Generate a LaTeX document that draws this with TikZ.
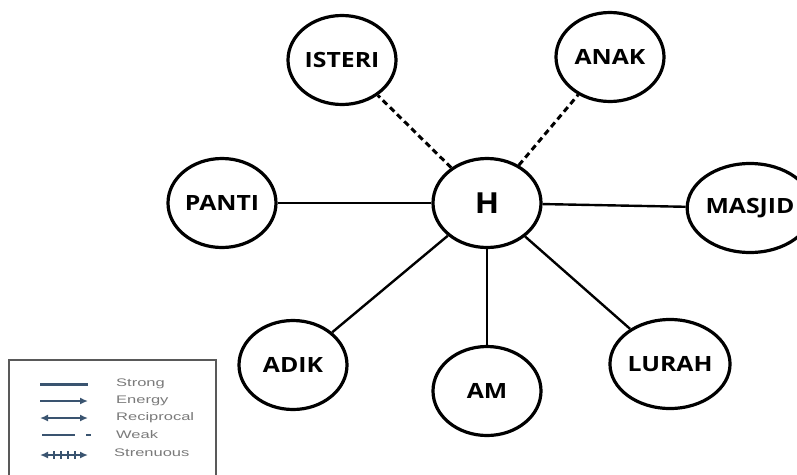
\documentclass[tikz,border=0pt]{standalone}
\usepackage{fontspec}
\setmainfont{Open Sans}
\newfontfamily\legfont{Liberation Sans}
\usetikzlibrary{arrows.meta,shapes.geometric}
\definecolor{legc}{HTML}{3A5470}
\definecolor{legt}{HTML}{7A7A7A}
\newcommand{\wide}[1]{\scalebox{1.18}[1]{#1}}
\newcommand{\lwide}[1]{\scalebox{1.5}[1]{#1}}
\begin{document}
\begin{tikzpicture}[x=1pt,y=-1pt,
  person/.style={ellipse, draw, line width=3.2pt, minimum width=108pt, minimum height=89pt, inner sep=0pt,
    font=\bfseries\fontsize{21}{21}\selectfont},
  tie/.style={line width=2.4pt},
  weaktie/.style={line width=3pt, dash pattern=on 6pt off 4pt},
  legline/.style={draw=legc, line width=2pt},
  legtip/.style={Latex[length=8pt,width=7pt]},
  legtext/.style={text=legt, anchor=west, inner sep=0pt, font=\legfont\fontsize{11}{11}\selectfont}]
\useasboundingbox (0,0) rectangle (797,474);
% legend
\begin{scope}
\clip (0,0) rectangle (797,474);
\draw[draw=black!65, line width=2.2pt, fill=white] (9,360) rectangle (216,490);
\end{scope}
\draw[legline, line width=3pt] (40,384) -- (88,384);
\draw[legline, -{Latex[length=8pt,width=7pt]}] (40,401) -- (88,401);
\draw[legline, {Latex[length=8pt,width=7pt]}-{Latex[length=8pt,width=7pt]}] (40,418) -- (88,418);
\draw[legline] (42,435) -- (75,435);
\draw[legline] (86,435) -- (91,435);
\draw[legline, {Latex[length=8pt,width=7pt]}-{Latex[length=8pt,width=7pt]}] (40,455) -- (88,455);
\foreach \t in {54,61,68,75} \draw[legc, line width=1.2pt] (\t,451) -- (\t,459);
\node[legtext] at (116,384) {\lwide{Strong}};
\node[legtext] at (116,401) {\lwide{Energy}};
\node[legtext] at (116,418) {\lwide{Reciprocal}};
\node[legtext] at (116,435) {\lwide{Weak}};
\node[legtext] at (114,453) {\lwide{Strenuous}};
% nodes
\node[person, font=\bfseries\fontsize{29}{29}\selectfont] (H) at (487,203) {\scalebox{1.1}[1]{H}};
\node[person] (isteri) at (342,60) {\wide{ISTERI}};
\node[person] (anak) at (610,57) {\wide{ANAK}};
\node[person] (panti) at (222,203) {\wide{PANTI}};
\begin{scope}
\clip (0,0) rectangle (797,474);
\node[person] (masjid) at (750,208) {\wide{MASJID}};
\end{scope}
\node[person] (adik) at (293,365) {\wide{ADIK}};
\node[person] (am) at (487,391) {\wide{AM}};
\node[person] (lurah) at (670,364) {\wide{LURAH}};
% connectors
\draw[weaktie] (H) -- (isteri);
\draw[weaktie] (H) -- (anak);
\draw[tie] (H) -- (panti);
\draw[tie] (H) -- (masjid);
\draw[tie] (H) -- (adik);
\draw[tie] (H) -- (am);
\draw[tie] (H) -- (lurah);
\end{tikzpicture}
\end{document}
